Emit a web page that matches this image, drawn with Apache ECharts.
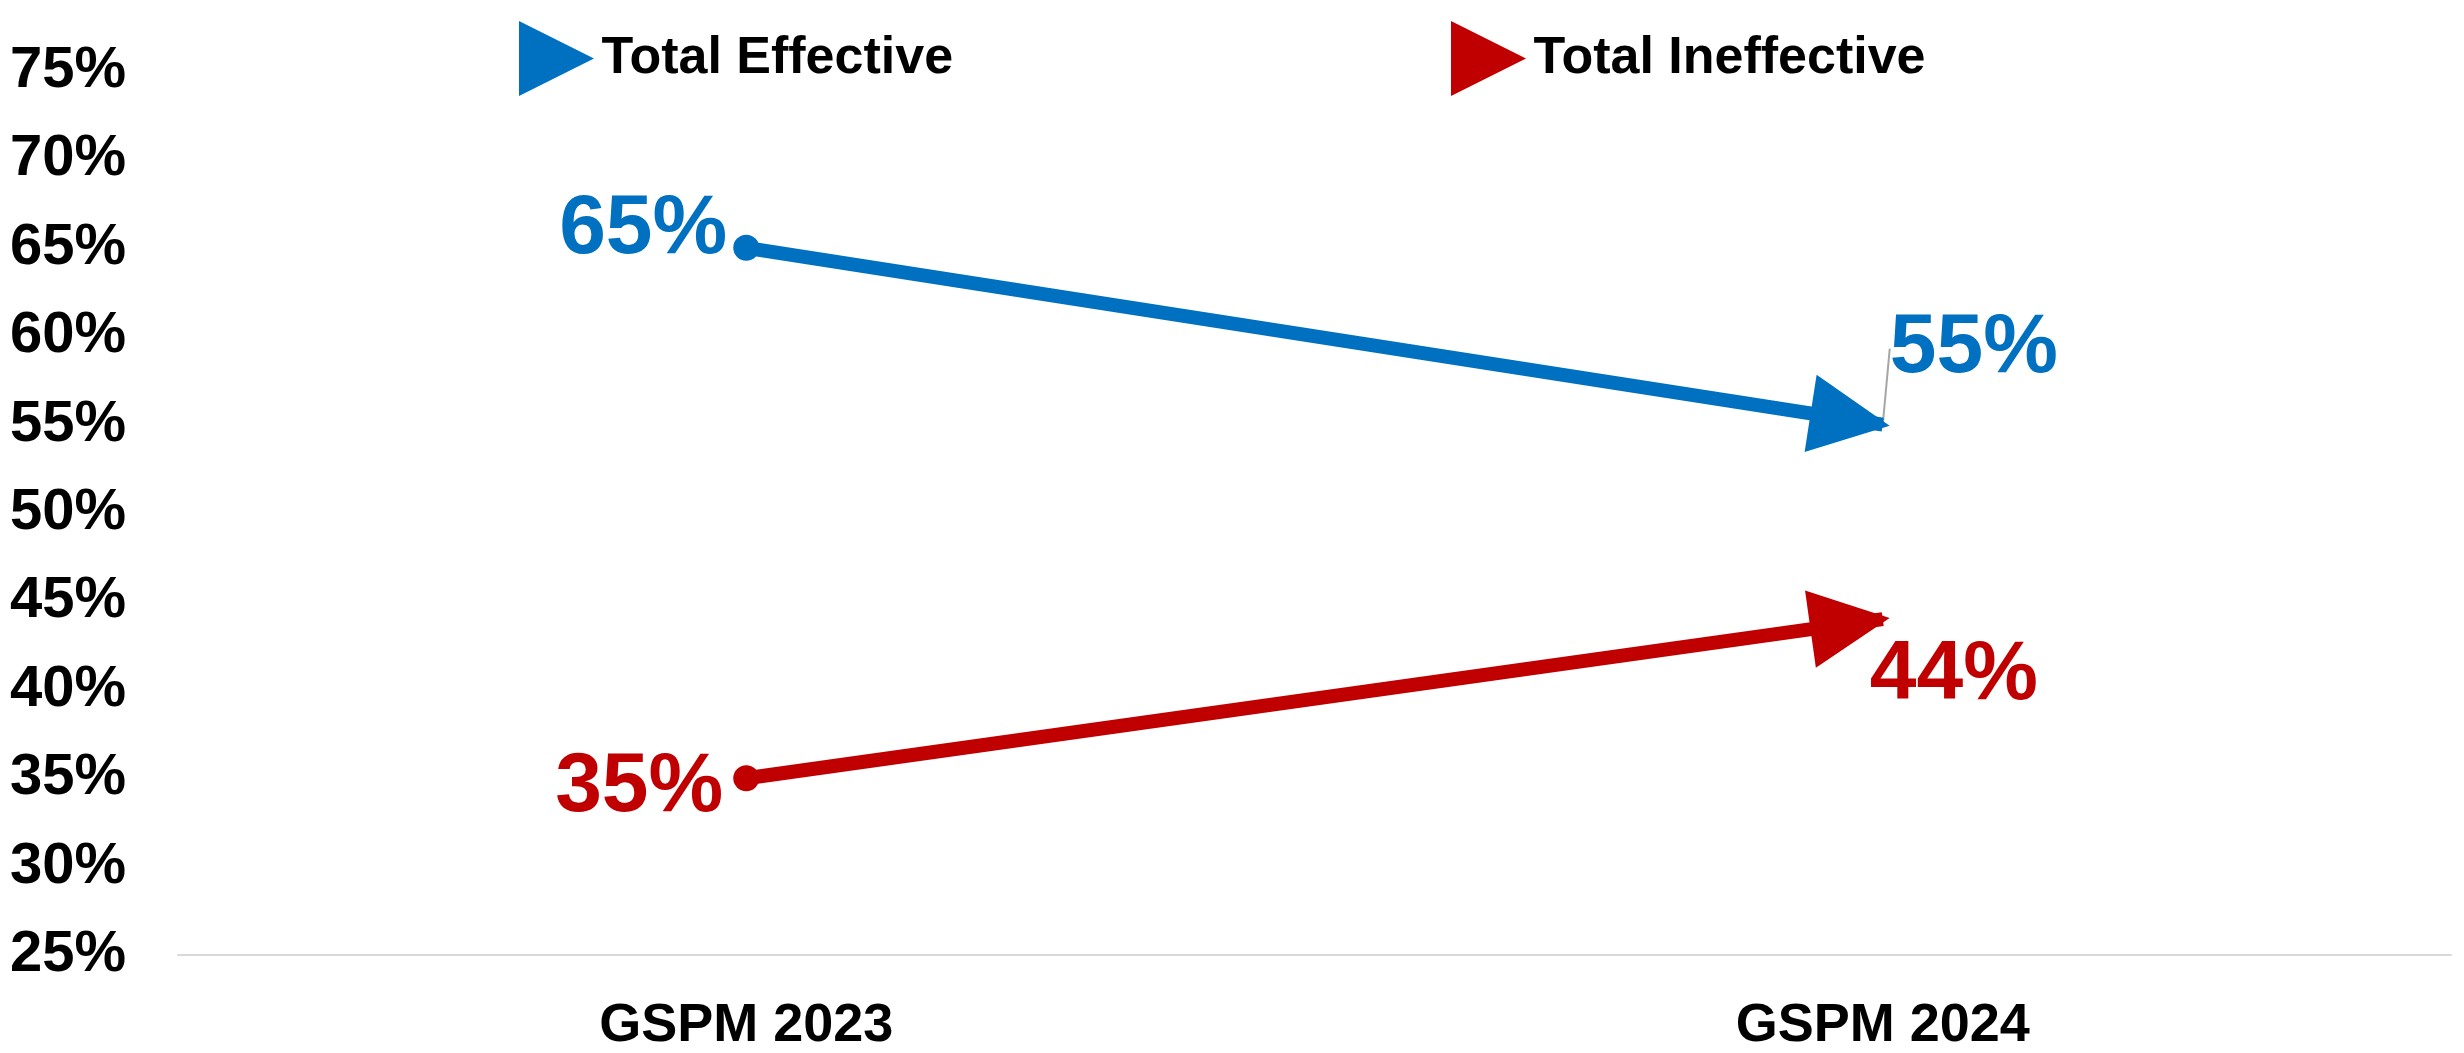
<!DOCTYPE html>
<html>
<head>
<meta charset="utf-8">
<title>GSPM</title>
<script src="https://cdn.jsdelivr.net/npm/echarts@6/dist/echarts.min.js"></script>
<style>
  html, body { margin: 0; padding: 0; background: #fff; }
  #main { width: 2464px; height: 1053px; }
</style>
</head>
<body>
<div id="main"></div>
<script>
const categories = ['GSPM 2023', 'GSPM 2024']
const effective = [65, 55]
const ineffective = [35, 44]
const seriesNames = ['Total Effective', 'Total Ineffective']
const blue = '#0070C0'
const red = '#C00000'
const font = '"Liberation Sans", Arial, sans-serif'

const chart = echarts.init(document.getElementById('main'))

// arrow = line from first to last point, triangle head on the end
function arrow(values, color) {
  const last = values.length - 1
  return {
    silent: true,
    label: { show: false },
    lineStyle: { color: color, width: 14, type: 'solid', opacity: 1 },
    emphasis: { disabled: true },
    animation: false,
    data: [[
      { coord: [0, values[0]], symbol: 'none' },
      { coord: [last, values[last]], symbol: 'triangle', symbolSize: [78, 80], symbolOffset: [0, 33] }
    ]]
  }
}

function points(values, labelFor, guide) {
  return values.map((v, i) => ({
    value: v,
    symbol: 'circle',
    symbolSize: i === 0 ? 26 : 0,
    label: labelFor(i),
    labelLine: { show: !!guide && i === values.length - 1 }
  }))
}

const labelBase = {
  show: true,
  fontFamily: font,
  fontWeight: 'bold',
  fontSize: 84,
  formatter: '{c}%'
}

const legendText = { fontFamily: font, fontWeight: 'bold', fontSize: 52, color: '#000' }
const triangle = 'path://M0,0 L10,5 L0,10 Z'

const option = {
  animation: false,
  legend: [
    { data: [seriesNames[0]], left: 514, top: 16, itemWidth: 80, itemHeight: 75, itemGap: 4, icon: triangle, textStyle: legendText, selectedMode: false },
    { data: [seriesNames[1]], left: 1446, top: 16, itemWidth: 80, itemHeight: 75, itemGap: 4, icon: triangle, textStyle: legendText, selectedMode: false }
  ],
  grid: { left: 178, right: 13, top: 71, bottom: 96 },
  xAxis: {
    type: 'category',
    data: categories,
    boundaryGap: true,
    axisLine: { lineStyle: { color: '#d9d9d9', width: 2 } },
    axisTick: { show: false },
    axisLabel: { margin: 44, color: '#000', fontFamily: font, fontWeight: 'bold', fontSize: 54 }
  },
  yAxis: {
    type: 'value',
    min: 25,
    max: 75,
    interval: 5,
    splitLine: { show: false },
    axisLine: { show: false },
    axisTick: { show: false },
    axisLabel: { margin: 52, color: '#000', fontFamily: font, fontWeight: 'bold', fontSize: 58, formatter: '{value}%' }
  },
  series: [
    {
      name: seriesNames[0],
      type: 'line',
      color: blue,
      lineStyle: { width: 0, opacity: 0 },
      itemStyle: { color: blue },
      data: points(effective, i => i === 0
        ? Object.assign({}, labelBase, { color: blue, position: 'left', distance: 6 })
        : Object.assign({}, labelBase, { color: blue, position: 'right', distance: 7 }), true),
      labelLine: { lineStyle: { color: '#a6a6a6', width: 2 } },
      labelLayout: p => (p.dataIndex === 1 ? { dy: -76 } : { dy: -18 }),
      markLine: arrow(effective, blue),
      z: 3
    },
    {
      name: seriesNames[1],
      type: 'line',
      color: red,
      lineStyle: { width: 0, opacity: 0 },
      itemStyle: { color: red },
      data: points(ineffective, i => i === 0
        ? Object.assign({}, labelBase, { color: red, position: 'left', distance: 10, offset: [0, 10] })
        : Object.assign({}, labelBase, { color: red, position: 'right', distance: 0, offset: [-13, 57] }), false),
      markLine: arrow(ineffective, red),
      z: 3
    }
  ]
}

chart.setOption(option)
window.onresize = () => {
  chart.resize()
}
</script>
</body>
</html>
